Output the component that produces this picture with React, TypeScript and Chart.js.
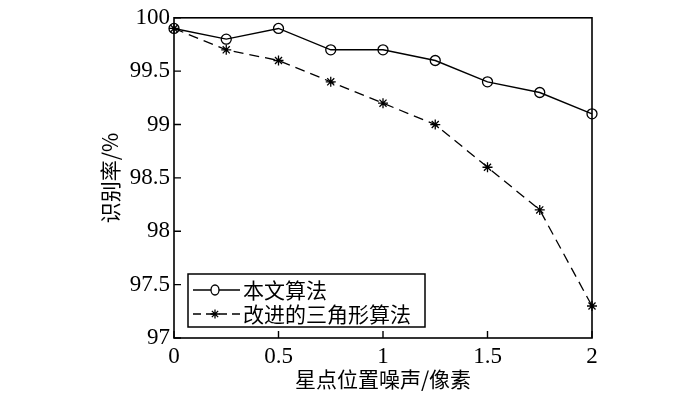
import React, { useEffect, useRef } from 'react';
import { Chart, registerables } from 'chart.js';

Chart.register(...registerables);

const noise = [0, 0.25, 0.5, 0.75, 1, 1.25, 1.5, 1.75, 2];
const proposed = [99.9, 99.8, 99.9, 99.7, 99.7, 99.6, 99.4, 99.3, 99.1];
const improvedTriangle = [99.9, 99.7, 99.6, 99.4, 99.2, 99.0, 98.6, 98.2, 97.3];
const seriesNames = ['本文算法', '改进的三角形算法'];
const xTicks = [0, 0.5, 1, 1.5, 2];
const yTicks = [97, 97.5, 98, 98.5, 99, 99.5, 100];
const xTitle = '星点位置噪声/像素';
const yTitle = '识别率/%';

const NUM_FONT = "'Liberation Serif', 'Times New Roman', serif";
const CJK_FONT = "'Noto Sans CJK SC', 'Liberation Serif', sans-serif";

const framePlugin = {
  id: 'frame',
  beforeDatasetsDraw(chart: any) {
    const { ctx, chartArea } = chart;
    const { left, right, top, bottom } = chartArea;
    const xs = chart.scales.x;
    const ys = chart.scales.y;
    ctx.save();
    ctx.strokeStyle = '#000';
    ctx.lineWidth = 1.6;
    ctx.strokeRect(left, top, right - left, bottom - top);
    ctx.lineWidth = 1.4;
    ctx.beginPath();
    xTicks.forEach((v) => {
      const px = xs.getPixelForValue(v);
      ctx.moveTo(px, bottom);
      ctx.lineTo(px, bottom - 7);
    });
    yTicks.forEach((v) => {
      const py = ys.getPixelForValue(v);
      ctx.moveTo(left, py);
      ctx.lineTo(left + 7, py);
    });
    ctx.stroke();
    ctx.restore();
  },
};

const legendPlugin = {
  id: 'customLegend',
  afterDraw(chart: any) {
    const { ctx } = chart;
    const bx = 188, by = 274, bw = 237, bh = 53;
    ctx.save();
    ctx.fillStyle = '#fff';
    ctx.fillRect(bx, by, bw, bh);
    ctx.strokeStyle = '#000';
    ctx.lineWidth = 1.5;
    ctx.strokeRect(bx, by, bw, bh);
    const rows = [
      { y: 290, dash: [] as number[], style: 'circle' },
      { y: 314, dash: [8, 5], style: 'star' },
    ];
    rows.forEach((r, i) => {
      ctx.setLineDash(r.dash);
      ctx.lineWidth = 1.3;
      ctx.beginPath();
      ctx.moveTo(193, r.y);
      ctx.lineTo(240, r.y);
      ctx.stroke();
      ctx.setLineDash([]);
      const mx = 215;
      ctx.beginPath();
      if (r.style === 'circle') {
        ctx.fillStyle = '#fff';
        ctx.ellipse(mx, r.y, 4, 5, 0, 0, Math.PI * 2);
        ctx.fill();
        ctx.stroke();
      } else {
        const s = 4.5;
        ctx.moveTo(mx - s, r.y); ctx.lineTo(mx + s, r.y);
        ctx.moveTo(mx, r.y - s); ctx.lineTo(mx, r.y + s);
        ctx.moveTo(mx - s * 0.7, r.y - s * 0.7); ctx.lineTo(mx + s * 0.7, r.y + s * 0.7);
        ctx.moveTo(mx - s * 0.7, r.y + s * 0.7); ctx.lineTo(mx + s * 0.7, r.y - s * 0.7);
        ctx.stroke();
      }
      ctx.fillStyle = '#000';
      ctx.font = `21px ${CJK_FONT}`;
      ctx.textBaseline = 'middle';
      ctx.textAlign = 'left';
      ctx.fillText(seriesNames[i], 243, r.y);
    });
    ctx.restore();
  },
};

export default function App() {
  const ref = useRef<HTMLCanvasElement | null>(null);

  useEffect(() => {
    document.body.style.margin = '0';
    const canvas = ref.current;
    if (!canvas) return;
    const chart = new Chart(canvas, {
      type: 'line',
      data: {
        labels: noise,
        datasets: [
          {
            label: seriesNames[0],
            data: noise.map((x, i) => ({ x, y: proposed[i] })),
            borderColor: '#000',
            backgroundColor: '#fff',
            borderWidth: 1.4,
            pointStyle: 'circle',
            pointRadius: 5,
            pointBorderWidth: 1.3,
            pointBorderColor: '#000',
            pointBackgroundColor: 'rgba(255,255,255,0)',
            tension: 0,
            clip: false as any,
          },
          {
            label: seriesNames[1],
            data: noise.map((x, i) => ({ x, y: improvedTriangle[i] })),
            borderColor: '#000',
            backgroundColor: '#000',
            borderWidth: 1.3,
            borderDash: [10, 6],
            pointStyle: 'star',
            pointRadius: 5,
            pointBorderWidth: 1.3,
            pointBorderColor: '#000',
            tension: 0,
            clip: false as any,
          },
        ],
      },
      options: {
        animation: false,
        responsive: false,
        events: [],
        layout: { padding: { top: 10, right: 108, left: 0, bottom: 0 } },
        plugins: {
          legend: { display: false },
          tooltip: { enabled: false },
        },
        scales: {
          x: {
            type: 'linear',
            min: 0,
            max: 2,
            afterBuildTicks: (s: any) => {
              s.ticks = xTicks.map((v) => ({ value: v }));
            },
            afterFit: (s: any) => {
              s.height = 56;
            },
            grid: { display: false, drawTicks: false },
            border: { display: false },
            ticks: {
              color: '#000',
              padding: 5,
              maxRotation: 0,
              font: { family: NUM_FONT, size: 23 },
              callback: (v: any) => String(v),
            },
            title: {
              display: true,
              text: xTitle,
              color: '#000',
              font: { family: CJK_FONT, size: 21 },
              padding: { top: 0, bottom: 2 },
            },
          },
          y: {
            type: 'linear',
            min: 97,
            max: 100,
            afterBuildTicks: (s: any) => {
              s.ticks = yTicks.map((v) => ({ value: v }));
            },
            afterFit: (s: any) => {
              s.width = 174;
            },
            grid: { display: false, drawTicks: false },
            border: { display: false },
            ticks: {
              color: '#000',
              padding: 4,
              font: { family: NUM_FONT, size: 23 },
              callback: (v: any) => String(v),
            },
            title: {
              display: true,
              text: yTitle,
              color: '#000',
              font: { family: CJK_FONT, size: 21 },
              padding: { top: 97, bottom: 0 },
            },
          },
        },
      },
      plugins: [framePlugin, legendPlugin],
    } as any);
    return () => chart.destroy();
  }, []);

  return (
    <div style={{ width: 700, height: 394, background: '#fff' }}>
      <canvas ref={ref} width={700} height={394} />
    </div>
  );
}
